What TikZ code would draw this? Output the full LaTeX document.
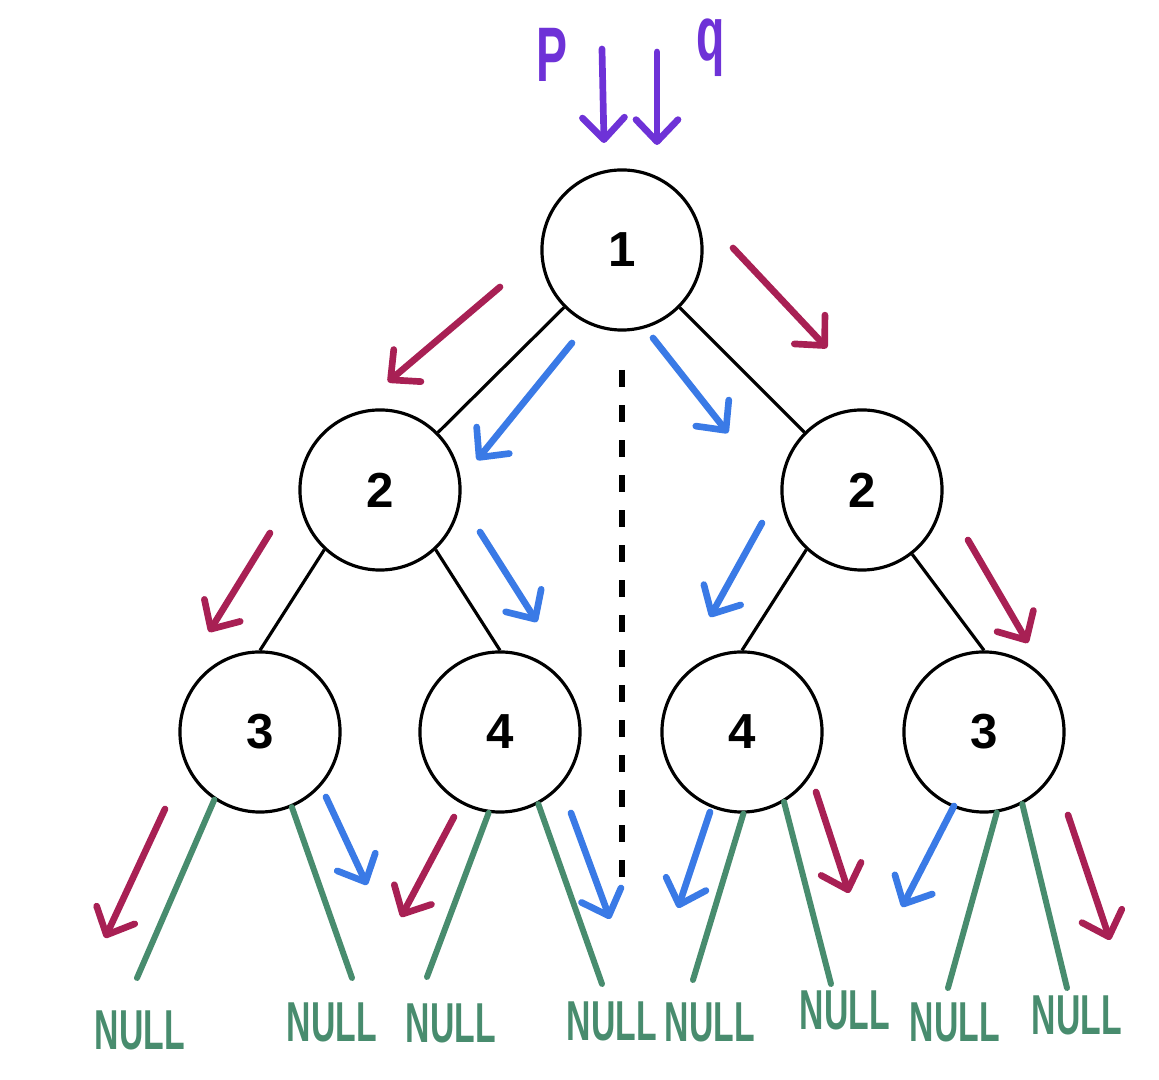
\documentclass[tikz,border=0pt]{standalone}
\usepackage{fontspec}
\setmainfont{Liberation Sans}
\newfontfamily\handfont[FakeStretch=0.6]{Liberation Sans}
\usetikzlibrary{arrows.meta}
\definecolor{arrowred}{RGB}{168,32,84}
\definecolor{arrowblue}{RGB}{58,122,230}
\definecolor{nullgreen}{RGB}{72,140,110}
\definecolor{ptrpurple}{RGB}{110,50,215}
\begin{document}
\begin{tikzpicture}[x=0.01cm, y=-0.01cm,
  tnode/.style={circle, draw, line width=0.9pt, minimum size=1.6cm, inner sep=0pt,
    font=\bfseries\fontsize{14}{14}\selectfont},
  nulltext/.style={text=nullgreen, font=\handfont\bfseries\fontsize{16}{16}\selectfont},
  ptrtext/.style={text=ptrpurple, font=\handfont\bfseries\fontsize{22}{22}\selectfont},
  nulledge/.style={nullgreen, line width=1.7pt, line cap=round},
  hand/.style={line width=1.9pt, line cap=round,
    -{Straight Barb[length=0.22cm, width=0.42cm, round]}},
  redarrow/.style={hand, arrowred},
  bluearrow/.style={hand, arrowblue},
  ptrarrow/.style={hand, ptrpurple}]
\useasboundingbox (0,0) rectangle (1159,1080);
% tree
\node[tnode] (n1) at (622,250) {1};
\node[tnode] (n2l) at (380,490) {2};
\node[tnode] (n2r) at (862,490) {2};
\node[tnode] (n3l) at (260,732) {3};
\node[tnode] (n4l) at (500,732) {4};
\node[tnode] (n4r) at (742,732) {4};
\node[tnode] (n3r) at (984,732) {3};
\draw[line width=0.9pt] (n1) -- (n2l);
\draw[line width=0.9pt] (n1) -- (n2r);
\draw[line width=0.9pt] (n2l.227) -- (n3l.north);
\draw[line width=0.9pt] (n2l.313) -- (n4l.north);
\draw[line width=0.9pt] (n2r.227) -- (n4r.north);
\draw[line width=0.9pt] (n2r.308) -- (n3r.north);
% NULL leaves
\node[nulltext] (nl1) at (140,1030) {NULL};
\node[nulltext] (nl2) at (332,1022) {NULL};
\node[nulltext] (nl3) at (451,1023) {NULL};
\node[nulltext] (nl4) at (612,1021) {NULL};
\node[nulltext] (nl5) at (710,1022) {NULL};
\node[nulltext] (nl6) at (845,1010) {NULL};
\node[nulltext] (nl7) at (955,1022) {NULL};
\node[nulltext] (nl8) at (1077,1015) {NULL};
\coordinate (e1) at (137,978);
\coordinate (e2) at (352,978);
\coordinate (e3) at (427,977);
\coordinate (e4) at (602,984);
\coordinate (e5) at (693,980);
\coordinate (e6) at (831,984);
\coordinate (e7) at (948,988);
\coordinate (e8) at (1067,988);
\draw[nulledge] (n3l.236) -- (e1);
\draw[nulledge] (n3l.293) -- (e2);
\draw[nulledge] (n4l.262) -- (e3);
\draw[nulledge] (n4l.298) -- (e4);
\draw[nulledge] (n4r.271) -- (e5);
\draw[nulledge] (n4r.301) -- (e6);
\draw[nulledge] (n3r.279) -- (e7);
\draw[nulledge] (n3r.298) -- (e8);
% mirror axis
\coordinate (mtop) at (622,370);
\coordinate (mbot) at (622,892);
\draw[line width=1.8pt, dash pattern=on 0.17cm off 0.18cm] (mtop) -- (mbot);
% pointers p and q
\node[ptrtext] (plab) at (552,55) {P};
\node[ptrtext] (qlab) at (711,48) {q};
\coordinate (pa) at (602,49);  \coordinate (pb) at (604,143);
\coordinate (qa) at (657,52);  \coordinate (qb) at (657,145);
\draw[ptrarrow] (pa) -- (pb);
\draw[ptrarrow] (qa) -- (qb);
% red arrows (walk of p)
\coordinate (ra1) at (500,287);  \coordinate (rb1) at (388,382);
\coordinate (ra2) at (733,248);  \coordinate (rb2) at (827,348);
\coordinate (ra3) at (270,533);  \coordinate (rb3) at (209,632);
\coordinate (ra4) at (968,540);  \coordinate (rb4) at (1028,643);
\coordinate (ra5) at (165,809);  \coordinate (rb5) at (105,938);
\coordinate (ra6) at (454,817);  \coordinate (rb6) at (401,917);
\coordinate (ra7) at (816,792);  \coordinate (rb7) at (849,893);
\coordinate (ra8) at (1068,815); \coordinate (rb8) at (1110,940);
\foreach \i in {1,...,8} \draw[redarrow] (ra\i) -- (rb\i);
% blue arrows (walk of q)
\coordinate (ba1) at (572,343);  \coordinate (bb1) at (477,460);
\coordinate (ba2) at (653,338);  \coordinate (bb2) at (728,433);
\coordinate (ba3) at (480,532);  \coordinate (bb3) at (537,622);
\coordinate (ba4) at (762,523);  \coordinate (bb4) at (710,617);
\coordinate (ba5) at (326,797);  \coordinate (bb5) at (367,885);
\coordinate (ba6) at (571,813);  \coordinate (bb6) at (610,919);
\coordinate (ba7) at (710,812);  \coordinate (bb7) at (678,908);
\coordinate (ba8) at (954,806);  \coordinate (bb8) at (902,907);
\foreach \i in {1,...,8} \draw[bluearrow] (ba\i) -- (bb\i);
\end{tikzpicture}
\end{document}
